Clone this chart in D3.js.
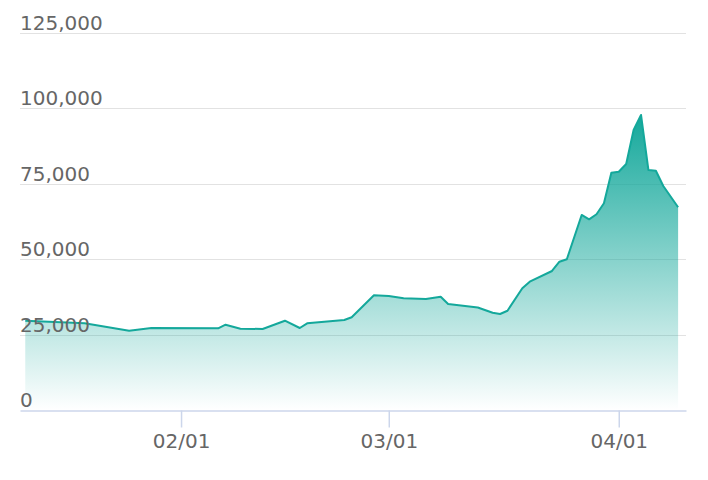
<!DOCTYPE html>
<html>
<head>
  <meta charset="utf-8">
  <title>Area chart</title>
  <style>
    body { margin: 0; background: #fff; }
    text { font-family: "DejaVu Sans", Verdana, sans-serif; }
  </style>
</head>
<body>
  <div id="chart"></div>
  <script src="https://cdn.jsdelivr.net/npm/d3@7"></script>
  <script>

    // values
    let dates = ['2021-01-11', '2021-01-19', '2021-01-25', '2021-01-28', '2021-02-06',
      '2021-02-07', '2021-02-09', '2021-02-12', '2021-02-15', '2021-02-17',
      '2021-02-18', '2021-02-23', '2021-02-24', '2021-02-27', '2021-03-01',
      '2021-03-03', '2021-03-06', '2021-03-08', '2021-03-09', '2021-03-13',
      '2021-03-15', '2021-03-16', '2021-03-17', '2021-03-19', '2021-03-20',
      '2021-03-23', '2021-03-24', '2021-03-25', '2021-03-27', '2021-03-28',
      '2021-03-29', '2021-03-30', '2021-03-31', '2021-04-01', '2021-04-02',
      '2021-04-03', '2021-04-04', '2021-04-05', '2021-04-06', '2021-04-07',
      '2021-04-09'];
    let values = [29600, 28750, 26300, 27190, 27090,
      28280, 26960, 26860, 29600, 27190,
      28750, 29840, 30740, 38030, 37800,
      37040, 36800, 37570, 35150, 33990,
      32260, 31830, 32920, 40350, 42540,
      46090, 49170, 49970, 64660, 63230,
      64890, 68530, 78680, 79010, 81560,
      92840, 97810, 79570, 79340, 74270,
      67210];
    let yTicks = [0, 25000, 50000, 75000, 100000, 125000];
    let xDomain = ['2021-01-10T07:00', '2021-04-10T01:30'];

    let parse = d3.utcParse('%Y-%m-%d');
    let parseT = d3.utcParse('%Y-%m-%dT%H:%M');
    let data = dates.map((d, i) => ({date: parse(d), value: values[i]}));

    let svgWidth = 708;
    let svgHeight = 480;
    let margin = {left: 20, right: 686, top: 33, bottom: 410};
    let lineColor = '#14a89b';

    let svg = d3.select('#chart')
      .append('svg')
        .attr('width', svgWidth)
        .attr('height', svgHeight);

    let x = d3.scaleUtc()
      .domain(xDomain.map(parseT))
      .range([margin.left, margin.right]);

    let y = d3.scaleLinear()
      .domain([0, 125000])
      .range([margin.bottom, margin.top]);

    // gridlines
    svg.append('g')
      .selectAll('line')
      .data(yTicks.filter(d => d > 0))
      .enter()
      .append('line')
        .attr('x1', margin.left)
        .attr('x2', margin.right)
        .attr('y1', d => Math.round(y(d)) + 0.5)
        .attr('y2', d => Math.round(y(d)) + 0.5)
        .style('stroke', '#e2e2e2')
        .style('stroke-width', 1.2);

    // gradient fill
    let grad = svg.append('defs')
      .append('linearGradient')
        .attr('id', 'fill')
        .attr('gradientUnits', 'userSpaceOnUse')
        .attr('x1', 0).attr('x2', 0)
        .attr('y1', y(d3.max(values)))
        .attr('y2', y(0));
    grad.append('stop').attr('offset', 0)
      .attr('stop-color', lineColor).attr('stop-opacity', 1);
    grad.append('stop').attr('offset', 1)
      .attr('stop-color', lineColor).attr('stop-opacity', 0);

    let area = d3.area()
      .x(d => x(d.date))
      .y0(y(0))
      .y1(d => y(d.value));

    let line = d3.line()
      .x(d => x(d.date))
      .y(d => y(d.value));

    svg.append('path')
      .datum(data)
      .attr('d', area)
      .style('fill', 'url(#fill)');

    svg.append('path')
      .datum(data)
      .attr('d', line)
      .style('fill', 'none')
      .style('stroke', lineColor)
      .style('stroke-width', 2)
      .style('stroke-linejoin', 'round');

    // x axis
    let xAxis = d3.axisBottom(x)
      .ticks(d3.utcMonth.every(1))
      .tickFormat(d3.utcFormat('%m/%d'))
      .tickSize(17)
      .tickSizeOuter(0)
      .tickPadding(6);

    let gx = svg.append('g')
      .attr('transform', 'translate(0,' + (margin.bottom + 0.5) + ')')
      .call(xAxis);
    gx.attr('font-family', null).attr('font-size', null);
    gx.select('.domain').style('stroke', '#ccd6eb').style('stroke-width', 1.5);
    gx.selectAll('.tick line').style('stroke', '#ccd6eb').style('stroke-width', 1.5);
    gx.selectAll('.tick text')
      .style('font-size', '20px')
      .style('fill', '#666');

    // y labels sit above their gridlines
    svg.append('g')
      .selectAll('text')
      .data(yTicks)
      .enter()
      .append('text')
        .attr('x', margin.left)
        .attr('y', d => y(d) - 3)
        .style('font-size', '20px')
        .style('fill', '#666')
        .text(d => d3.format(',')(d));

  </script>
</body>
</html>
